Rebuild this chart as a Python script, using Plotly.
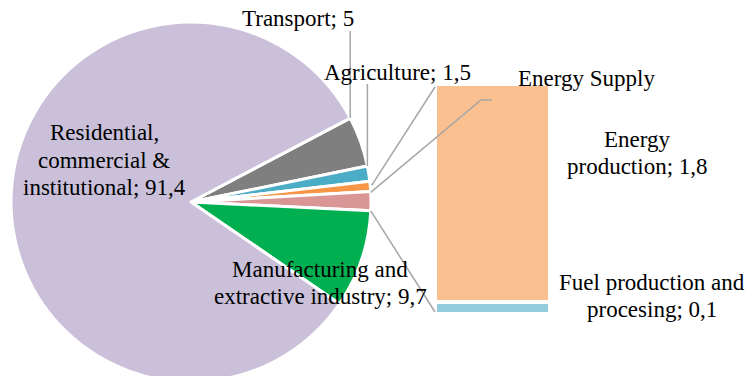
import math
import plotly.graph_objects as go

# ---- data ----------------------------------------------------------------
# Pie slices, clockwise starting from the Transport slice
pie_names = [
    "Transport",
    "Agriculture",
    "",
    "Energy Supply",
    "Manufacturing and<br>extractive industry",
    "Residential,<br>commercial &<br>institutional",
]
# Break-down of the "Energy Supply" slice shown in the stacked bar (bottom to top)
bar_names = ["Fuel production and<br>procesing", "Energy<br>production"]
bar_values = [0.1, 1.8]

pie_values = [5, 1.5, 1.0, sum(bar_values), 9.7, 91.4]
pie_colors = ["#7F7F7F", "#4BACC6", "#F79646", "#D99694", "#00B050", "#CAC0DA"]
bar_colors = ["#93CDDD", "#FAC090"]

# ---- geometry --------------------------------------------------------------
W, H = 752, 384
PIE_CX, PIE_CY, PIE_R = 191, 202, 180   # pixels from top-left
ROTATION = 62.2                          # start angle, clockwise from 12 o'clock
BAR_X0, BAR_X1 = 435, 550                # bar column, pixels
BAR_TOP, BAR_BOTTOM = 84, 314            # bar stack top/bottom, pixels
LINE_GAP = 27.5                          # baseline distance of multi-line labels

FONT = dict(family="Times New Roman, Liberation Serif, serif", size=23, color="#000000")
LINE = dict(color="#A6A6A6", width=1.5)


def px(x):
    return x / W


def py(y):
    return (H - y) / H


def fmt(v):
    return f"{v:g}".replace(".", ",")


total = sum(pie_values)


def slice_start(i):
    """Outer corner (pixels) where slice i begins."""
    ang = math.radians(ROTATION + 360 * sum(pie_values[:i]) / total)
    return PIE_CX + PIE_R * math.sin(ang), PIE_CY - PIE_R * math.cos(ang)


fig = go.Figure()

fig.add_trace(go.Pie(
    labels=[n if n else " " for n in pie_names],
    values=pie_values,
    sort=False,
    direction="clockwise",
    rotation=ROTATION,
    marker=dict(colors=pie_colors, line=dict(color="white", width=3)),
    textinfo="none",
    hoverinfo="label+value",
    domain=dict(x=[px(PIE_CX - PIE_R), px(PIE_CX + PIE_R)],
                y=[py(PIE_CY + PIE_R), py(PIE_CY - PIE_R)]),
    showlegend=False,
))

for name, val, col in zip(bar_names, bar_values, bar_colors):
    fig.add_trace(go.Bar(
        x=[0], y=[val], name=name.replace("<br>", " "),
        marker=dict(color=col, line=dict(color="white", width=4)),
        width=1, showlegend=False, hoverinfo="name+y",
    ))

bar_total = sum(bar_values)

# ---- leader lines and connector lines ---------------------------------------
shapes = []
es = pie_names.index("Energy Supply")
tx, ty = slice_start(0)
ax_, ay_ = slice_start(1)
ex0, ey0 = slice_start(es)
ex1, ey1 = slice_start(es + 1)

shapes.append(dict(type="line", xref="paper", yref="paper",
                   x0=px(tx), y0=py(31), x1=px(tx), y1=py(ty), line=LINE))
shapes.append(dict(type="line", xref="paper", yref="paper",
                   x0=px(ax_), y0=py(84), x1=px(ax_), y1=py(ay_), line=LINE))
shapes.append(dict(type="path", xref="paper", yref="paper",
                   path=f"M {px(492)},{py(100)} L {px(481)},{py(100)} L {px(ex0)},{py(ey0 + 1)}",
                   line=LINE))
# connectors from the Energy Supply slice to the bar
shapes.append(dict(type="line", xref="paper", yref="paper",
                   x0=px(ex0 + 1), y0=py(ey0 - 6), x1=px(BAR_X0), y1=py(BAR_TOP + 3), line=LINE))
shapes.append(dict(type="line", xref="paper", yref="paper",
                   x0=px(ex1), y0=py(ey1), x1=px(BAR_X0), y1=py(BAR_BOTTOM - 2), line=LINE))

# ---- labels ------------------------------------------------------------------
annotations = []


def label(text, x, y):
    """Centered label; each line placed separately for a tight line pitch."""
    lines = text.split("<br>")
    n = len(lines)
    for k, ln in enumerate(lines):
        yy = y + (k - (n - 1) / 2) * LINE_GAP
        annotations.append(dict(text=ln, x=px(x), y=py(yy), xref="paper", yref="paper",
                                xanchor="center", yanchor="middle", showarrow=False,
                                align="center", font=FONT))


label(f"{pie_names[0]}; {fmt(pie_values[0])}", 298, 18)
label(f"{pie_names[1]}; {fmt(pie_values[1])}", 397, 72)
label(pie_names[es], 586, 79)
label(f"{pie_names[4]}; {fmt(pie_values[4])}", 320, 283)
label(f"{pie_names[5]}; {fmt(pie_values[5])}", 104, 160)
label(f"{bar_names[1]}; {fmt(bar_values[1])}", 637, 153)
label(f"{bar_names[0]}; {fmt(bar_values[0])}", 652, 296)

fig.update_layout(
    width=W, height=H,
    margin=dict(l=0, r=0, t=0, b=0, pad=0),
    paper_bgcolor="white", plot_bgcolor="white",
    barmode="stack", bargap=0,
    xaxis=dict(domain=[px(BAR_X0), px(BAR_X1)], range=[-0.5, 0.5], visible=False, fixedrange=True),
    yaxis=dict(domain=[py(BAR_BOTTOM), py(BAR_TOP)], range=[0, bar_total], visible=False, fixedrange=True),
    shapes=shapes,
    annotations=annotations,
)

fig.write_html(
    "out.html",
    config={"displayModeBar": False},
    post_script="document.documentElement.style.overflow='hidden';"
                "document.body.style.overflow='hidden';document.body.style.margin='0';",
)
